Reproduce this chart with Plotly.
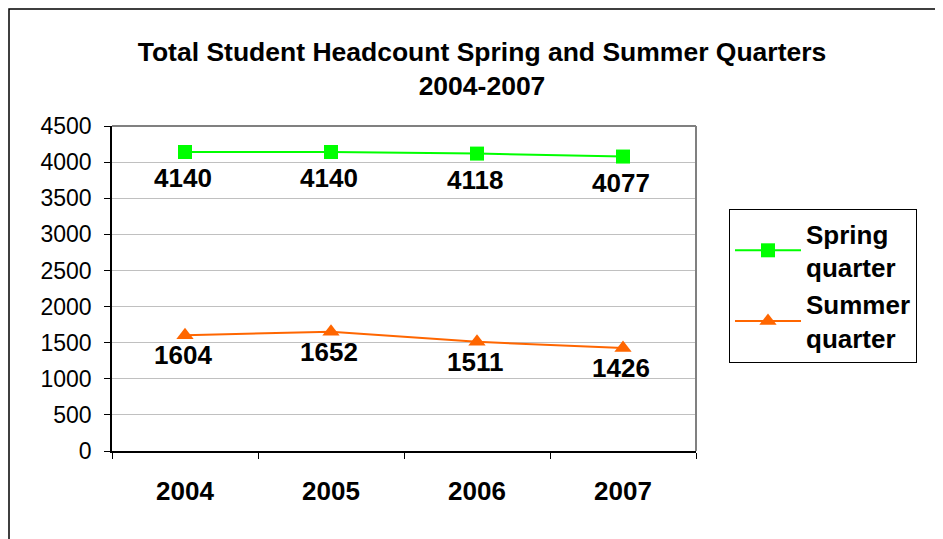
import plotly.graph_objects as go

years = ["2004", "2005", "2006", "2007"]
spring = [4140, 4140, 4118, 4077]
summer = [1604, 1652, 1511, 1426]
y_ticks = [0, 500, 1000, 1500, 2000, 2500, 3000, 3500, 4000, 4500]

FONT = "Arial, Liberation Sans, sans-serif"
OFF = 8  # page body margin offset

fig = go.Figure()
fig.add_trace(go.Scatter(
    x=years, y=spring, name="Spring<br>quarter",
    mode="lines+markers",
    line=dict(color="#00ff00", width=2),
    marker=dict(symbol="square", size=14, color="#00ff00"),
))
fig.add_trace(go.Scatter(
    x=years, y=summer, name="Summer<br>quarter",
    mode="lines+markers",
    line=dict(color="#ff6600", width=2),
    marker=dict(symbol="triangle-up", size=15, color="#ff6600"),
))

annotations = []
for series, shift in ((spring, -26), (summer, -20)):
    for i, v in enumerate(series):
        annotations.append(dict(
            x=i, y=v, xref="x", yref="y", text="<b>%d</b>" % v,
            showarrow=False, yshift=shift, xshift=-2,
            font=dict(family=FONT, size=26, color="black"),
        ))

W, H = 943, 539
L, R, T, B = 112 - OFF, 696 - OFF, 126 - OFF, 451 - OFF
pw, ph = R - L, B - T

def px_x(x):
    return (x - OFF - L) / pw

def px_y(y):
    return (B - (y - OFF)) / ph

fig.update_layout(
    width=W, height=H,
    margin=dict(l=L, r=W - R, t=T, b=H - B),
    paper_bgcolor="white", plot_bgcolor="white",
    font=dict(family=FONT, color="black"),
    title=dict(
        text="<b>Total Student Headcount Spring and Summer Quarters<br>2004-2007</b>",
        x=(482 - OFF) / W, xanchor="center", y=1 - 53 / H, yanchor="top",
        font=dict(family=FONT, size=26.5, color="black"),
    ),
    showlegend=True,
    legend=dict(
        x=px_x(729), y=px_y(209), xanchor="left", yanchor="top",
        bgcolor="white", bordercolor="black", borderwidth=1,
        font=dict(family=FONT, size=26, color="black", weight="bold"),
        tracegroupgap=10, itemwidth=66,
    ),
    annotations=annotations,
    xaxis=dict(
        type="category", range=[-0.5, 3.5],
        showline=True, linecolor="black", linewidth=1.5,
        ticks="outside", tickson="boundaries", ticklen=6, tickcolor="black",
        showgrid=False,
        tickfont=dict(family=FONT, size=26, color="black", weight="bold"),
        ticklabelstandoff=16,
    ),
    yaxis=dict(
        range=[0, 4500], tickvals=y_ticks,
        showline=True, linecolor="black", linewidth=1.5,
        ticks="outside", ticklen=6, tickcolor="black",
        showgrid=True, gridcolor="#c0c0c0", gridwidth=1,
        zeroline=False,
        tickfont=dict(family=FONT, size=23, color="black"),
        ticklabelstandoff=8,
    ),
    shapes=[
        dict(type="line", xref="paper", yref="paper", x0=0, x1=1, y0=1, y1=1,
             line=dict(color="#808080", width=2)),
        dict(type="line", xref="paper", yref="paper", x0=1, x1=1, y0=0, y1=1,
             line=dict(color="#808080", width=2)),
        dict(type="rect", xref="paper", yref="paper",
             x0=px_x(9), x1=px_x(990), y0=px_y(600), y1=px_y(9),
             line=dict(color="black", width=1.5)),
    ],
)

fig.write_html("out.html")
